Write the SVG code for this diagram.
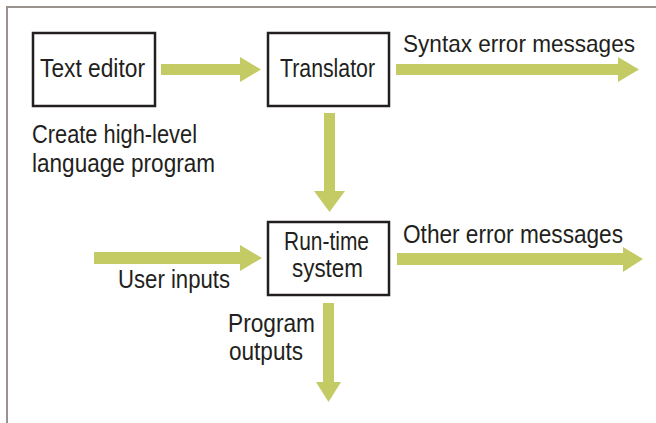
<svg xmlns="http://www.w3.org/2000/svg" width="656" height="423" viewBox="0 0 656 423">
  <style>
    .frame { fill: none; stroke: #9a928e; stroke-width: 2; }
    .box { fill: #ffffff; stroke: #231f20; stroke-width: 2.5; }
    .arrow { fill: #c4ca64; }
    text { font-family: "Liberation Sans", Arial, sans-serif; font-size: 25px; fill: #231f20; }
    .small { font-size: 24px; }
  </style>
  <rect width="656" height="423" fill="#ffffff"/>
  <!-- page frame: top and left edges only -->
  <path class="frame" d="M7,423 V7 H656"/>

  <g id="connectors">
    <!-- Text editor to Translator -->
    <polygon class="arrow" points="161,64 240,64 240,57 261,69.5 240,82 240,75 161,75"/>
    <!-- Translator to syntax errors -->
    <polygon class="arrow" points="396,64 618,64 618,57 639,69.5 618,82 618,75 396,75"/>
    <!-- Translator down to Run-time system -->
    <polygon class="arrow" points="324,113 335,113 335,191 345,191 329.5,212 314,191 324,191"/>
    <!-- User inputs into Run-time system -->
    <polygon class="arrow" points="94,252 240,252 240,245 262,258 240,271 240,264 94,264"/>
    <!-- Run-time system to other errors -->
    <polygon class="arrow" points="397,253 623,253 623,247 643,259 623,272 623,265 397,265"/>
    <!-- Program outputs -->
    <polygon class="arrow" points="323,303 334,303 334,382 341,382 328.5,402 316,382 323,382"/>
  </g>

  <g id="text-editor">
    <rect class="box" x="33" y="33" width="122" height="73"/>
    <text x="40" y="77" textLength="105" lengthAdjust="spacingAndGlyphs">Text editor</text>
  </g>
  <text x="32" y="143" textLength="165" lengthAdjust="spacingAndGlyphs">Create high-level</text>
  <text x="32" y="172" textLength="183" lengthAdjust="spacingAndGlyphs">language program</text>

  <g id="translator">
    <rect class="box" x="268" y="33" width="121" height="73"/>
    <text x="280" y="77" textLength="95" lengthAdjust="spacingAndGlyphs">Translator</text>
  </g>
  <text class="small" x="403" y="52" textLength="232" lengthAdjust="spacingAndGlyphs">Syntax error messages</text>

  <g id="run-time-system">
    <rect class="box" x="268" y="222" width="121" height="73"/>
    <text x="284" y="250" textLength="85" lengthAdjust="spacingAndGlyphs">Run-time</text>
    <text x="292" y="277" textLength="71" lengthAdjust="spacingAndGlyphs">system</text>
  </g>
  <text x="403" y="243" textLength="220" lengthAdjust="spacingAndGlyphs">Other error messages</text>
  <text x="118" y="288" textLength="112" lengthAdjust="spacingAndGlyphs">User inputs</text>
  <text x="228" y="332" textLength="87" lengthAdjust="spacingAndGlyphs">Program</text>
  <text x="229" y="360" textLength="74" lengthAdjust="spacingAndGlyphs">outputs</text>
</svg>
